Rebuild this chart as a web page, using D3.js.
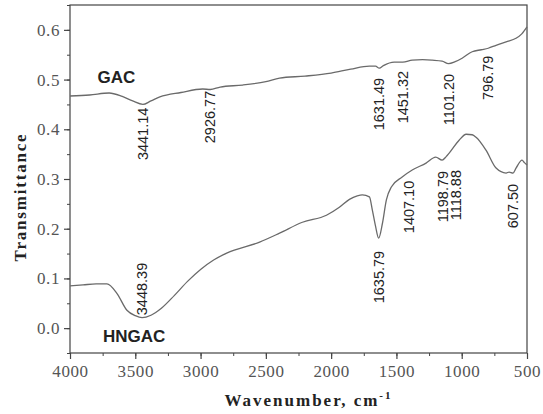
<!DOCTYPE html>
<html>
<head>
<meta charset="utf-8">
<script src="https://cdn.jsdelivr.net/npm/d3@7"></script>
<style>
body { margin: 0; background: #fff; }
svg { display: block; }
</style>
</head>
<body>
<div id="chart"></div>
<script>
// spectrum readings (wavenumber cm-1, transmittance)
var gac_wn = [4000,3850,3700,3600,3520,3442,3380,3312,3150,2984,2926,2850,2678,2500,2395,2200,2000,1850,1707,1660,1631,1600,1517,1451,1379,1300,1226,1150,1101,1050,997,920,850,797,737,660,584,540,500];
var gac_t  = [0.467,0.469,0.473,0.466,0.457,0.450,0.457,0.465,0.474,0.481,0.480,0.485,0.489,0.496,0.503,0.507,0.513,0.521,0.527,0.527,0.523,0.528,0.535,0.535,0.539,0.540,0.539,0.537,0.532,0.536,0.543,0.556,0.560,0.563,0.569,0.576,0.583,0.592,0.606];

var hngac_wn = [4000,3900,3800,3717,3641,3564,3500,3448,3380,3300,3200,3100,3000,2900,2800,2548,2395,2220,2036,1937,1860,1800,1761,1707,1684,1660,1636,1607,1577,1539,1456,1379,1273,1199,1150,1119,1096,1020,966,920,890,814,737,660,637,607,584,538,520,500];
var hngac_t  = [0.085,0.087,0.089,0.089,0.070,0.036,0.025,0.021,0.026,0.040,0.066,0.094,0.118,0.137,0.151,0.173,0.191,0.213,0.227,0.243,0.259,0.266,0.268,0.264,0.237,0.205,0.181,0.211,0.258,0.284,0.304,0.318,0.332,0.344,0.338,0.345,0.352,0.378,0.390,0.389,0.384,0.358,0.322,0.312,0.314,0.312,0.322,0.338,0.333,0.328];

// peak annotations: text, wavenumber where it sits, transmittance at label foot
var gac_peaks     = ["3441.14","2926.77","1631.49","1451.32","1101.20","796.79"];
var gac_peak_wn   = [3441.14, 2926.77, 1631.49, 1451.32, 1101.20, 796.79];
var gac_peak_t    = [0.338, 0.372, 0.398, 0.412, 0.408, 0.459];
var hngac_peaks   = ["3448.39","1635.79","1407.10","1198.79","1118.88","607.50"];
var hngac_peak_wn = [3448.39, 1635.79, 1407.10, 1140, 1045, 607.50];
var hngac_peak_t  = [0.026, 0.050, 0.191, 0.213, 0.217, 0.201];

var x_ticks = [4000,3500,3000,2500,2000,1500,1000,500];
var y_ticks = [0.0,0.1,0.2,0.3,0.4,0.5,0.6];

var width = 543, height = 414;
var margin = {top:5, right:16, bottom:61, left:70};
var plot_w = width - margin.left - margin.right;
var plot_h = height - margin.top - margin.bottom;

var svg = d3.select("#chart").append("svg")
			.attr("width",width)
			.attr("height",height);

var g = svg.append("g")
		   .attr("transform","translate(" + margin.left + "," + margin.top + ")");

var x = d3.scaleLinear().domain([4000,500]).range([0,plot_w]);
var y = d3.scaleLinear().domain([-0.05,0.65]).range([plot_h,0]);

// frame
g.append("rect")
 .attr("width",plot_w)
 .attr("height",plot_h)
 .attr("fill","none")
 .attr("stroke","#444")
 .attr("stroke-width",1.2);

// minor ticks
var x_minor = d3.range(4000,499,-250);
var y_minor = d3.range(-0.05,0.651,0.05);

g.append("g")
 .attr("transform","translate(0," + plot_h + ")")
 .call(d3.axisBottom(x).tickValues(x_minor).tickSize(3).tickFormat(""))
 .call(function(s){ s.select(".domain").remove(); s.selectAll("line").attr("stroke","#444"); });

g.append("g")
 .call(d3.axisLeft(y).tickValues(y_minor).tickSize(3).tickFormat(""))
 .call(function(s){ s.select(".domain").remove(); s.selectAll("line").attr("stroke","#444"); });

// major ticks + labels
var x_axis = g.append("g")
			  .attr("transform","translate(0," + plot_h + ")")
			  .call(d3.axisBottom(x).tickValues(x_ticks).tickSize(6).tickPadding(6).tickFormat(d3.format("d")));

var y_axis = g.append("g")
			  .call(d3.axisLeft(y).tickValues(y_ticks).tickSize(6).tickPadding(4).tickFormat(d3.format(".1f")));

[x_axis,y_axis].forEach(function(a){
	a.select(".domain").remove();
	a.selectAll("line").attr("stroke","#444").attr("stroke-width",1.2);
	a.selectAll("text")
	 .attr("fill","#555")
	 .style("font-family","'Liberation Serif','Times New Roman',serif")
	 .style("font-size","17px")
	 .style("letter-spacing","0.6px");
});

// axis titles
svg.append("text")
   .attr("x",margin.left + plot_w/2 + 10)
   .attr("y",406)
   .attr("text-anchor","middle")
   .attr("fill","#222")
   .style("font-family","'Liberation Serif','Times New Roman',serif")
   .style("font-weight","bold")
   .style("font-size","17px")
   .style("letter-spacing","2px")
   .text("Wavenumber, cm")
   .append("tspan")
   .attr("dy",-7)
   .style("font-size","11px")
   .text("-1");

svg.append("text")
   .attr("transform","translate(26," + (margin.top + plot_h/2 + 18) + ") rotate(-90)")
   .attr("text-anchor","middle")
   .attr("fill","#222")
   .style("font-family","'Liberation Serif','Times New Roman',serif")
   .style("font-weight","bold")
   .style("font-size","17px")
   .style("letter-spacing","1.8px")
   .text("Transmittance");

// spectra
var line = d3.line()
			 .x(function(d){ return x(d[0]); })
			 .y(function(d){ return y(d[1]); })
			 .curve(d3.curveMonotoneX);

var gac_data = gac_wn.map(function(d,i){ return [d,gac_t[i]]; });
var hngac_data = hngac_wn.map(function(d,i){ return [d,hngac_t[i]]; });

[gac_data,hngac_data].forEach(function(data){
	g.append("path")
	 .datum(data)
	 .attr("d",line)
	 .attr("fill","none")
	 .attr("stroke","#6a6a6a")
	 .attr("stroke-width",1.3);
});

// peak labels
function draw_peaks(labels,wn,tv){
	g.selectAll(null)
	 .data(labels)
	 .enter()
	 .append("text")
	 .attr("transform",function(d,i){
	 	return "translate(" + (x(wn[i]) + 5) + "," + y(tv[i]) + ") rotate(-90)";
	 })
	 .attr("fill","#222")
	 .style("font-family","'Liberation Sans',Arial,sans-serif")
	 .style("font-size","14.5px")
	 .text(function(d){ return d; });
}
draw_peaks(gac_peaks,gac_peak_wn,gac_peak_t);
draw_peaks(hngac_peaks,hngac_peak_wn,hngac_peak_t);

// series names
g.append("text")
 .attr("x",x(3790))
 .attr("y",y(0.493))
 .attr("fill","#222")
 .style("font-family","'Liberation Sans',Arial,sans-serif")
 .style("font-weight","bold")
 .style("font-size","17px")
 .text("GAC");

g.append("text")
 .attr("x",x(3748))
 .attr("y",y(-0.028))
 .attr("fill","#222")
 .style("font-family","'Liberation Sans',Arial,sans-serif")
 .style("font-weight","bold")
 .style("font-size","17px")
 .text("HNGAC");
</script>
</body>
</html>
